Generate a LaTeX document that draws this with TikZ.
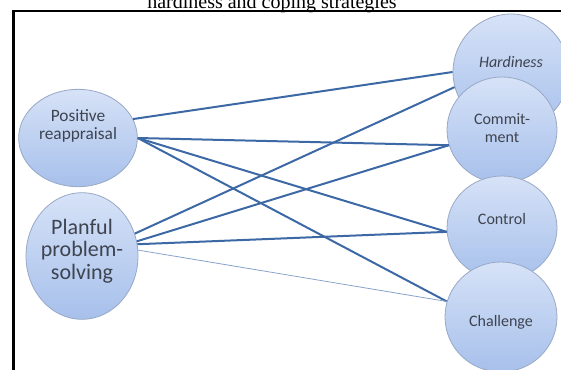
\documentclass[tikz,border=0pt]{standalone}
\usepackage{fontspec}
\setmainfont{Liberation Serif}
\newfontfamily\bubblefont{Carlito}
\usetikzlibrary{shapes.geometric}

\definecolor{bubbletop}{HTML}{D6E2F7}
\definecolor{bubblebot}{HTML}{A7C0EB}
\definecolor{bubbleedge}{HTML}{98A8C6}
\definecolor{linkblue}{HTML}{3C69A5}
\definecolor{linkpale}{HTML}{8AA3C8}
\definecolor{labelgray}{HTML}{3E4350}

\tikzset{
    bubble/.style={ellipse, draw=bubbleedge, line width=0.6pt, top color=bubbletop, bottom color=bubblebot, inner sep=0pt},
    bubbletext/.style={text=labelgray, align=center, font=\bubblefont\fontsize{12}{13}\selectfont},
    link/.style={linkblue, line width=1.5pt},
}

\begin{document}
\begin{tikzpicture}[x=0.75pt, y=-0.75pt]
    \useasboundingbox (0,0) rectangle (561,369);
    \node[anchor=base, font=\fontsize{15}{18}\selectfont] (title) at (272,8.5) {hardiness and coping strategies};
    \draw[line width=1.8pt] (13.5,380) |- (580,10.7);

    % coping strategies
    \node[bubble, minimum width=89pt, minimum height=73pt,
        label={[bubbletext, font=\bubblefont\fontsize{13}{13.5}\selectfont, yshift=9pt]center:{Positive\\reappraisal}}] (pos) at (78,138) {};
    \node[bubble, minimum width=84pt, minimum height=95pt,
        label={[bubbletext, font=\bubblefont\fontsize{16.5}{17}\selectfont, yshift=3.75pt]center:{Planful\\problem-\\solving}}] (plan) at (82,256) {};

    % hardiness
    \node[bubble, minimum width=87pt, minimum height=87pt,
        label={[bubbletext, yshift=7.5pt]center:{\itshape Hardiness}}] (hard) at (511,72) {};
    \node[bubble, minimum width=82.5pt, minimum height=79.5pt,
        label={[bubbletext, yshift=1.5pt]center:{Commit-\\ment}}] (comm) at (502,130) {};
    \node[bubble, minimum width=82.5pt, minimum height=78pt,
        label={[bubbletext, yshift=6.5pt]center:Control}] (ctrl) at (502,228) {};
    \node[bubble, minimum width=84pt, minimum height=82.5pt,
        label={[bubbletext, yshift=-3.75pt]center:Challenge}] (chal) at (501,317) {};

    \draw[link] (pos.19) -- (hard.west);
    \draw[link] (pos.east) -- (comm.196);
    \draw[link] (pos.east) -- (ctrl.184);
    \draw[link] (pos.east) -- (chal.164);
    \draw[link] (plan.23) -- (hard.195);
    \draw[link] (plan.15) -- (comm.196);
    \draw[link] (plan.12) -- (ctrl.184);
    \draw[linkpale, line width=0.6pt] (plan.6) -- (chal.164);
\end{tikzpicture}
\end{document}
